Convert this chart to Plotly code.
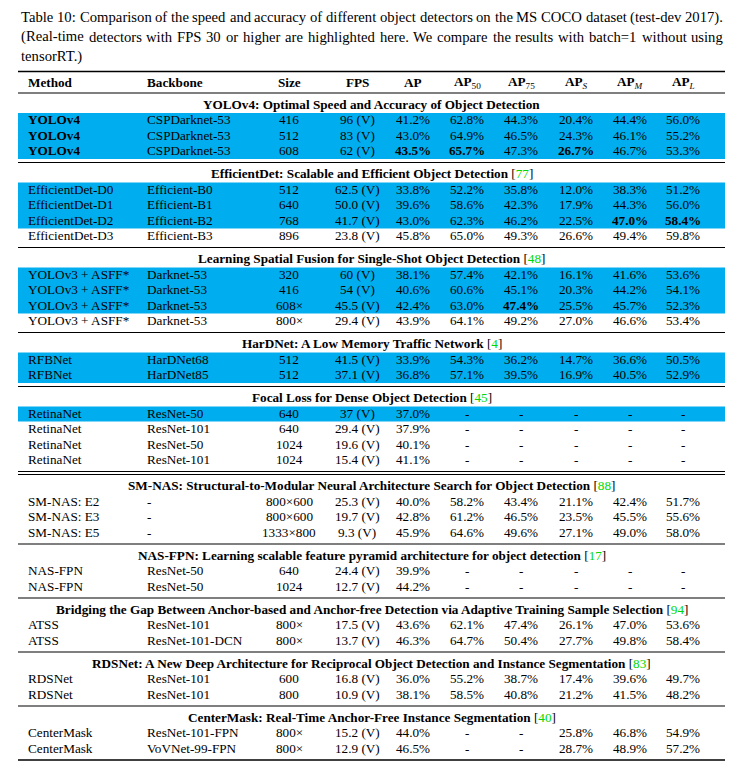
import glob
import plotly.graph_objects as go

# ---------------- data ----------------
caption_lines = [
    "Table 10: Comparison of the speed and accuracy of different object detectors on the MS COCO dataset (test-dev 2017).",
    "(Real-time detectors with FPS 30 or higher are highlighted here.  We compare the results with batch=1 without using",
    "tensorRT.)",
]

header_labels = ["<b>Method</b>", "<b>Backbone</b>", "<b>Size</b>", "<b>FPS</b>", "<b>AP</b>",
                 "<b>AP</b><sub>50</sub>", "<b>AP</b><sub>75</sub>", "<b>AP</b><sub><i>S</i></sub>",
                 "<b>AP</b><sub><i>M</i></sub>", "<b>AP</b><sub><i>L</i></sub>"]

section_titles = [
    "YOLOv4: Optimal Speed and Accuracy of Object Detection",
    "EfficientDet: Scalable and Efficient Object Detection",
    "Learning Spatial Fusion for Single-Shot Object Detection",
    "HarDNet: A Low Memory Traffic Network",
    "Focal Loss for Dense Object Detection",
    "SM-NAS: Structural-to-Modular Neural Architecture Search for Object Detection",
    "NAS-FPN: Learning scalable feature pyramid architecture for object detection",
    "Bridging the Gap Between Anchor-based and Anchor-free Detection via Adaptive Training Sample Selection",
    "RDSNet: A New Deep Architecture for Reciprocal Object Detection and Instance Segmentation",
    "CenterMask: Real-Time Anchor-Free Instance Segmentation",
]
section_refs = ["", "77", "48", "4", "45", "88", "17", "94", "83", "40"]

X = "\u00d7"
method = [
    ["YOLOv4", "YOLOv4", "YOLOv4"],
    ["EfficientDet-D0", "EfficientDet-D1", "EfficientDet-D2", "EfficientDet-D3"],
    ["YOLOv3 + ASFF*"] * 4,
    ["RFBNet", "RFBNet"],
    ["RetinaNet"] * 4,
    ["SM-NAS: E2", "SM-NAS: E3", "SM-NAS: E5"],
    ["NAS-FPN", "NAS-FPN"],
    ["ATSS", "ATSS"],
    ["RDSNet", "RDSNet"],
    ["CenterMask", "CenterMask"],
]
backbone = [
    ["CSPDarknet-53"] * 3,
    ["Efficient-B0", "Efficient-B1", "Efficient-B2", "Efficient-B3"],
    ["Darknet-53"] * 4,
    ["HarDNet68", "HarDNet85"],
    ["ResNet-50", "ResNet-101", "ResNet-50", "ResNet-101"],
    ["-", "-", "-"],
    ["ResNet-50", "ResNet-50"],
    ["ResNet-101", "ResNet-101-DCN"],
    ["ResNet-101", "ResNet-101"],
    ["ResNet-101-FPN", "VoVNet-99-FPN"],
]
size = [
    ["416", "512", "608"],
    ["512", "640", "768", "896"],
    ["320", "416", "608" + X, "800" + X],
    ["512", "512"],
    ["640", "640", "1024", "1024"],
    ["800" + X + "600", "800" + X + "600", "1333" + X + "800"],
    ["640", "1024"],
    ["800" + X, "800" + X],
    ["600", "800"],
    ["800" + X, "800" + X],
]
fps = [
    ["96 (V)", "83 (V)", "62 (V)"],
    ["62.5 (V)", "50.0 (V)", "41.7 (V)", "23.8 (V)"],
    ["60 (V)", "54 (V)", "45.5 (V)", "29.4 (V)"],
    ["41.5 (V)", "37.1 (V)"],
    ["37 (V)", "29.4 (V)", "19.6 (V)", "15.4 (V)"],
    ["25.3 (V)", "19.7 (V)", "9.3 (V)"],
    ["24.4 (V)", "12.7 (V)"],
    ["17.5 (V)", "13.7 (V)"],
    ["16.8 (V)", "10.9 (V)"],
    ["15.2 (V)", "12.9 (V)"],
]
ap = [
    ["41.2%", "43.0%", "43.5%"],
    ["33.8%", "39.6%", "43.0%", "45.8%"],
    ["38.1%", "40.6%", "42.4%", "43.9%"],
    ["33.9%", "36.8%"],
    ["37.0%", "37.9%", "40.1%", "41.1%"],
    ["40.0%", "42.8%", "45.9%"],
    ["39.9%", "44.2%"],
    ["43.6%", "46.3%"],
    ["36.0%", "38.1%"],
    ["44.0%", "46.5%"],
]
ap50 = [
    ["62.8%", "64.9%", "65.7%"],
    ["52.2%", "58.6%", "62.3%", "65.0%"],
    ["57.4%", "60.6%", "63.0%", "64.1%"],
    ["54.3%", "57.1%"],
    ["-", "-", "-", "-"],
    ["58.2%", "61.2%", "64.6%"],
    ["-", "-"],
    ["62.1%", "64.7%"],
    ["55.2%", "58.5%"],
    ["-", "-"],
]
ap75 = [
    ["44.3%", "46.5%", "47.3%"],
    ["35.8%", "42.3%", "46.2%", "49.3%"],
    ["42.1%", "45.1%", "47.4%", "49.2%"],
    ["36.2%", "39.5%"],
    ["-", "-", "-", "-"],
    ["43.4%", "46.5%", "49.6%"],
    ["-", "-"],
    ["47.4%", "50.4%"],
    ["38.7%", "40.8%"],
    ["-", "-"],
]
aps = [
    ["20.4%", "24.3%", "26.7%"],
    ["12.0%", "17.9%", "22.5%", "26.6%"],
    ["16.1%", "20.3%", "25.5%", "27.0%"],
    ["14.7%", "16.9%"],
    ["-", "-", "-", "-"],
    ["21.1%", "23.5%", "27.1%"],
    ["-", "-"],
    ["26.1%", "27.7%"],
    ["17.4%", "21.2%"],
    ["25.8%", "28.7%"],
]
apm = [
    ["44.4%", "46.1%", "46.7%"],
    ["38.3%", "44.3%", "47.0%", "49.4%"],
    ["41.6%", "44.2%", "45.7%", "46.6%"],
    ["36.6%", "40.5%"],
    ["-", "-", "-", "-"],
    ["42.4%", "45.5%", "49.0%"],
    ["-", "-"],
    ["47.0%", "49.8%"],
    ["39.6%", "41.5%"],
    ["46.8%", "48.9%"],
]
apl = [
    ["56.0%", "55.2%", "53.3%"],
    ["51.2%", "56.0%", "58.4%", "59.8%"],
    ["53.6%", "54.1%", "52.3%", "53.4%"],
    ["50.5%", "52.9%"],
    ["-", "-", "-", "-"],
    ["51.7%", "55.6%", "58.0%"],
    ["-", "-"],
    ["53.6%", "58.4%"],
    ["49.7%", "48.2%"],
    ["54.9%", "57.2%"],
]
# rows highlighted (real-time, FPS >= 30)
highlighted = [
    [1, 1, 1],
    [1, 1, 1, 0],
    [1, 1, 1, 0],
    [1, 1],
    [1, 0, 0, 0],
    [0, 0, 0],
    [0, 0],
    [0, 0],
    [0, 0],
    [0, 0],
]
bold_methods = ["YOLOv4"]
# (section, row, column index) of bold cells
bold_cells = [(0, 2, 4), (0, 2, 5), (0, 2, 7), (1, 2, 8), (1, 2, 9), (2, 2, 6)]

# ---------------- layout / style ----------------
W, H = 742, 783
X_LEFT, X_RIGHT = 18, 725
COL_X = [27, 146, 289, 357, 413, 467, 521, 576, 630, 683]
COL_ANCHOR = ["left", "left"] + ["center"] * 8
FONT = "Liberation Serif, Times New Roman, serif"
FS = 13.2
CAP_FS_DEFAULT = 14.6
HIGHLIGHT = "#00AEEF"
CITE = "#00D800"

TOP_RULE, HEADER_Y, HEADER_RULE = 71.5, 82, 93
RULE_TO_TITLE, TITLE_TO_ROW, ROW_PITCH, ROW_TO_RULE, DOUBLE_GAP = 11, 15.5, 15.5, 12, 3
CAPTION_Y = [17, 36.5, 56]
CAP_X0, CAP_X1 = 20, 722

annotations = []
shapes = []


def add_text(x, y, text, anchor="center", size=FS, color="black"):
    annotations.append(dict(x=x, y=y, xref="x", yref="y", text=text, showarrow=False,
                            xanchor=anchor, yanchor="middle", borderpad=0,
                            font=dict(family=FONT, size=size, color=color)))


def add_rule(y, width):
    shapes.append(dict(type="line", xref="x", yref="y", x0=X_LEFT, x1=X_RIGHT, y0=y, y1=y,
                       line=dict(color="black", width=width)))


# caption (justified using font metrics if available)
def get_measure():
    try:
        from PIL import ImageFont
    except Exception:
        return None
    paths = glob.glob("/usr/share/fonts/**/LiberationSerif-Regular.ttf", recursive=True)
    if not paths:
        return None
    cache = {}

    def measure(s, sz):
        key = round(sz * 10)
        if key not in cache:
            cache[key] = ImageFont.truetype(paths[0], 100)
        return cache[key].getlength(s) * sz / 100.0
    return measure


measure = get_measure()
if measure is not None:
    nat = measure(caption_lines[0], 10)
    cap_fs = 10 * (CAP_X1 - CAP_X0) / nat
    cap_fs = min(cap_fs, 16)
    for li, line in enumerate(caption_lines):
        if li == len(caption_lines) - 1:
            add_text(CAP_X0, CAPTION_Y[li], line, "left", cap_fs)
            continue
        words = line.split()
        widths = [measure(w, cap_fs) for w in words]
        gap = (CAP_X1 - CAP_X0 - sum(widths)) / (len(words) - 1)
        x = CAP_X0
        for w, wd in zip(words, widths):
            add_text(x, CAPTION_Y[li], w, "left", cap_fs)
            x += wd + gap
else:
    for li, line in enumerate(caption_lines):
        add_text(CAP_X0, CAPTION_Y[li], line, "left", CAP_FS_DEFAULT)

# header
add_rule(TOP_RULE, 1.6)
for c, lab in enumerate(header_labels):
    add_text(COL_X[c], HEADER_Y, lab, COL_ANCHOR[c])
add_rule(HEADER_RULE, 1.1)

# body
y = HEADER_RULE
n_sec = len(section_titles)
for s in range(n_sec):
    ty = y + RULE_TO_TITLE
    title = "<b>" + section_titles[s] + "</b>"
    if section_refs[s]:
        title += " [<span style='color:%s'>%s</span>]" % (CITE, section_refs[s])
    add_text((X_LEFT + X_RIGHT) / 2, ty, title, "center")
    cols = [method[s], backbone[s], size[s], fps[s], ap[s], ap50[s], ap75[s], aps[s], apm[s], apl[s]]
    nrows = len(method[s])
    row_y = [ty + TITLE_TO_ROW + r * ROW_PITCH for r in range(nrows)]
    # highlight bands
    r = 0
    while r < nrows:
        if highlighted[s][r]:
            r2 = r
            while r2 + 1 < nrows and highlighted[s][r2 + 1]:
                r2 += 1
            shapes.append(dict(type="rect", xref="x", yref="y", x0=X_LEFT, x1=X_RIGHT,
                               y0=row_y[r] - 6.5, y1=row_y[r2] + 8.5, layer="below",
                               fillcolor=HIGHLIGHT, line=dict(width=0)))
            r = r2 + 1
        else:
            r += 1
    for r in range(nrows):
        for c in range(10):
            txt = cols[c][r]
            if (c == 0 and txt in bold_methods) or (s, r, c) in bold_cells:
                txt = "<b>" + txt + "</b>"
            add_text(COL_X[c], row_y[r], txt, COL_ANCHOR[c])
    y = row_y[-1] + ROW_TO_RULE
    last = s == n_sec - 1
    add_rule(y, 1.6 if last else 1.1)
    if s == 4:
        y += DOUBLE_GAP
        add_rule(y, 1.1)

fig = go.Figure()
fig.add_trace(go.Scatter(x=[0, W], y=[0, H], mode="markers", marker=dict(opacity=0),
                         hoverinfo="skip", showlegend=False))
fig.update_layout(
    width=W, height=H, margin=dict(l=0, r=0, t=0, b=0),
    paper_bgcolor="white", plot_bgcolor="white",
    xaxis=dict(range=[0, W], visible=False, fixedrange=True),
    yaxis=dict(range=[H, 0], visible=False, fixedrange=True),
    annotations=annotations, shapes=shapes, showlegend=False,
)
fig.write_html("out.html", config={"displayModeBar": False},
               post_script="document.body.style.margin='0';")
